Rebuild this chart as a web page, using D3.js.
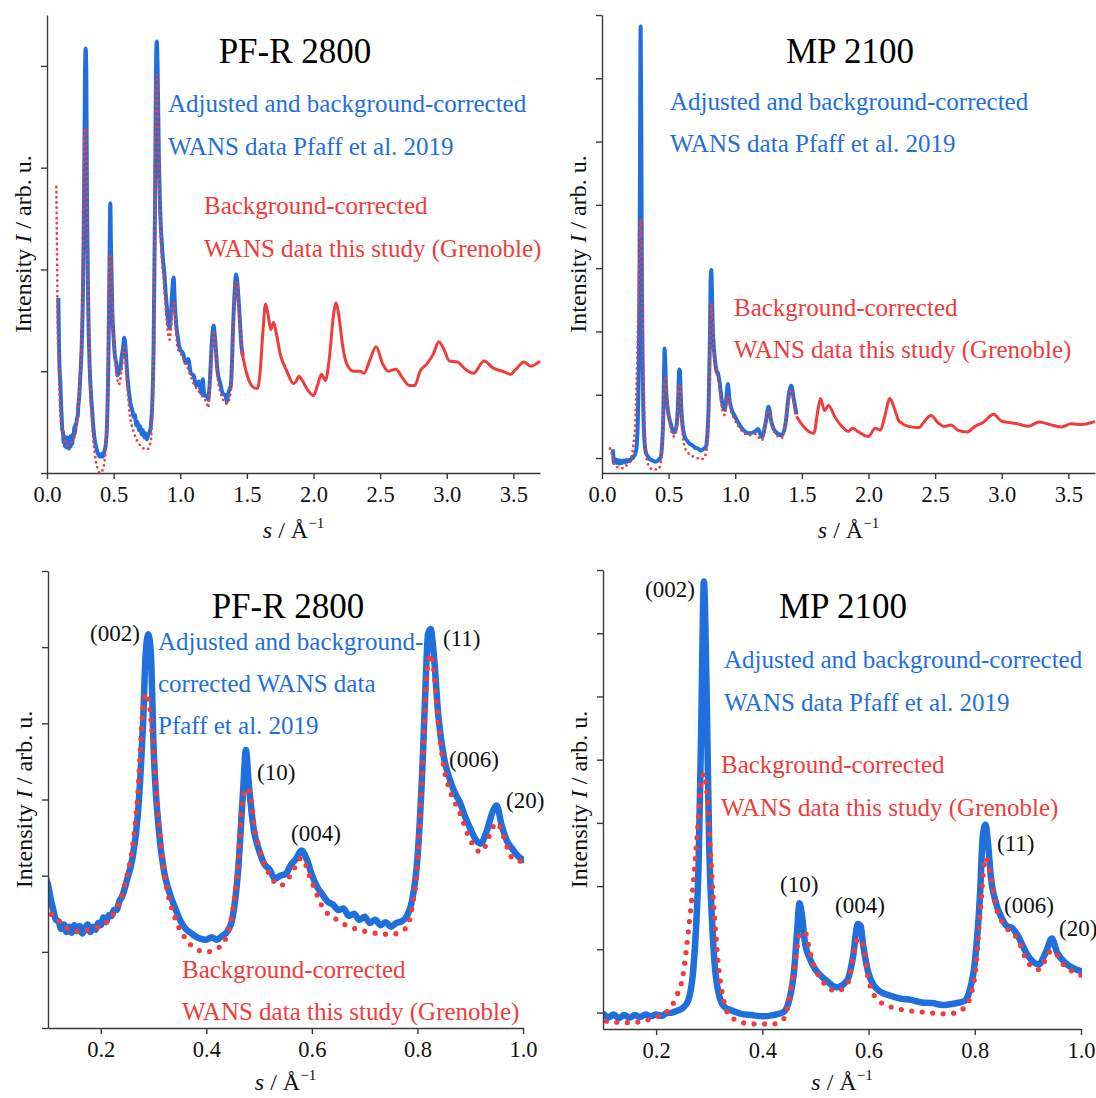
<!DOCTYPE html>
<html><head><meta charset="utf-8">
<script src="https://cdn.jsdelivr.net/npm/d3@7"></script>
<style>
body{margin:0;background:#fff}
svg text{font-family:"Liberation Serif","Times New Roman",serif}
</style></head><body>
<svg id="c" width="1096" height="1098"></svg>
<script>
// ---- WANS intensity profiles, s in 1/Å, intensity in arbitrary units ----
// PF-R 2800: adjusted data (Pfaff et al. 2019), noisy where counts are low
const pfrBlue = [[0.085,1.72],[0.09,1.25],[0.095,1.0],[0.1,0.88],[0.105,0.70],[0.11,0.55],[0.115,0.42],[0.12,0.40],[0.125,0.30],[0.13,0.36],[0.135,0.26],[0.14,0.33],[0.145,0.25],[0.15,0.35],[0.155,0.27],[0.16,0.34],[0.165,0.24],[0.17,0.31],[0.175,0.36],[0.18,0.26],[0.185,0.33],[0.19,0.29],[0.195,0.38],[0.2,0.35],[0.205,0.45],[0.21,0.39],[0.215,0.48],[0.22,0.47],[0.225,0.55],[0.23,0.55],[0.235,0.66],[0.24,0.72],[0.25,0.95],[0.26,1.23],[0.27,1.78],[0.275,2.3],[0.28,2.98],[0.285,3.9],[0.29,4.17],[0.295,3.9],[0.30,2.70],[0.31,1.60],[0.32,1.05],[0.33,0.78],[0.34,0.59],[0.35,0.42],[0.36,0.31],[0.37,0.25],[0.38,0.20],[0.39,0.17],[0.40,0.16],[0.41,0.19],[0.42,0.16],[0.43,0.21],[0.44,0.27],[0.45,0.46],[0.46,1.05],[0.47,2.15],[0.475,2.65],[0.48,2.24],[0.49,1.60],[0.50,1.33],[0.51,1.15],[0.52,1.08],[0.53,0.96],[0.54,1.00],[0.55,1.02],[0.56,1.14],[0.57,1.22],[0.58,1.33],[0.59,1.22],[0.60,1.01],[0.61,0.85],[0.62,0.75],[0.63,0.66],[0.64,0.62],[0.65,0.55],[0.66,0.57],[0.67,0.47],[0.68,0.50],[0.69,0.42],[0.70,0.46],[0.71,0.38],[0.72,0.42],[0.73,0.35],[0.74,0.39],[0.75,0.33],[0.76,0.38],[0.77,0.40],[0.78,0.47],[0.79,0.68],[0.80,1.23],[0.81,2.52],[0.815,3.43],[0.82,4.17],[0.825,4.24],[0.83,3.98],[0.84,3.07],[0.85,2.56],[0.86,2.29],[0.87,2.10],[0.88,1.97],[0.89,1.78],[0.90,1.62],[0.91,1.48],[0.92,1.42],[0.93,1.56],[0.945,1.88],[0.95,1.92],[0.96,1.65],[0.97,1.45],[0.98,1.35],[0.99,1.26],[1.00,1.21],[1.02,1.18],[1.04,1.08],[1.06,1.12],[1.08,0.98],[1.10,0.96],[1.12,0.86],[1.14,0.90],[1.16,0.78],[1.17,0.92],[1.18,0.76],[1.20,0.76],[1.21,0.72],[1.22,0.86],[1.24,1.34],[1.25,1.45],[1.26,1.34],[1.28,1.0],[1.3,0.88],[1.32,0.78],[1.34,0.76],[1.35,0.70],[1.36,0.78],[1.38,0.86],[1.40,1.55],[1.42,1.95],[1.44,1.66],[1.46,1.24],[1.47,1.15]];
// PF-R 2800: this study (Grenoble), measured range overlapping the adjusted data
const pfrRed = [[0.07,2.81],[0.075,2.2],[0.08,1.5],[0.09,1.0],[0.1,0.57],[0.12,0.41],[0.15,0.27],[0.2,0.34],[0.22,0.46],[0.24,0.73],[0.25,1.01],[0.26,1.37],[0.27,2.06],[0.28,3.2],[0.285,3.39],[0.29,3.34],[0.295,3.07],[0.30,2.61],[0.31,1.69],[0.32,1.05],[0.34,0.46],[0.36,0.18],[0.38,0.04],[0.40,0.0],[0.42,0.04],[0.44,0.23],[0.46,1.14],[0.47,2.06],[0.478,2.15],[0.485,2.0],[0.49,1.69],[0.50,1.37],[0.52,1.01],[0.54,0.87],[0.56,1.01],[0.58,1.23],[0.60,0.91],[0.62,0.59],[0.65,0.41],[0.70,0.27],[0.75,0.23],[0.78,0.32],[0.79,0.59],[0.80,1.14],[0.81,2.52],[0.82,3.80],[0.825,3.91],[0.83,3.75],[0.84,2.98],[0.85,2.43],[0.86,2.15],[0.88,1.83],[0.90,1.47],[0.92,1.31],[0.95,1.69],[0.98,1.23],[1.00,1.18],[1.05,1.05],[1.1,0.88],[1.15,0.78],[1.2,0.68],[1.21,0.64],[1.22,0.8],[1.24,1.25],[1.25,1.40],[1.26,1.28],[1.28,0.95],[1.3,0.8],[1.35,0.68],[1.38,0.8],[1.40,1.45],[1.42,1.88],[1.44,1.6],[1.46,1.21]];
// PF-R 2800: this study, continuation to high s
const pfrRedTail = [[1.46,1.21],[1.5,0.97],[1.55,0.84],[1.58,0.83],[1.60,1.0],[1.62,1.38],[1.64,1.66],[1.66,1.55],[1.68,1.41],[1.70,1.48],[1.72,1.38],[1.75,1.17],[1.80,1.0],[1.85,0.88],[1.87,0.90],[1.89,0.95],[1.92,0.90],[1.95,0.83],[2.00,0.76],[2.03,0.86],[2.06,0.97],[2.09,0.91],[2.12,1.14],[2.15,1.55],[2.17,1.67],[2.19,1.55],[2.22,1.24],[2.25,1.07],[2.30,1.0],[2.35,1.0],[2.38,0.98],[2.42,1.10],[2.47,1.24],[2.52,1.07],[2.56,1.0],[2.62,1.02],[2.66,0.95],[2.72,0.86],[2.76,0.86],[2.80,1.0],[2.85,1.07],[2.90,1.17],[2.94,1.29],[2.98,1.21],[3.02,1.10],[3.08,1.09],[3.14,1.02],[3.20,0.98],[3.28,1.10],[3.35,1.03],[3.42,1.0],[3.48,0.97],[3.52,1.02],[3.58,1.09],[3.63,1.05],[3.70,1.10]];

// MP 2100: adjusted data (Pfaff et al. 2019)
const mpBlue = [[0.08,0.14],[0.085,0.05],[0.09,-0.08],[0.1,-0.02],[0.11,-0.08],[0.12,-0.03],[0.13,-0.09],[0.14,-0.04],[0.15,-0.08],[0.16,-0.04],[0.17,-0.07],[0.18,-0.03],[0.19,-0.06],[0.2,-0.03],[0.21,-0.05],[0.22,-0.01],[0.23,0.0],[0.24,0.03],[0.25,0.07],[0.26,0.18],[0.27,0.68],[0.275,1.3],[0.28,2.34],[0.285,4.55],[0.29,6.82],[0.295,5.1],[0.30,2.61],[0.305,1.5],[0.31,0.79],[0.32,0.23],[0.33,0.08],[0.34,0.04],[0.36,-0.02],[0.38,-0.04],[0.40,-0.06],[0.42,-0.04],[0.44,0.01],[0.45,0.18],[0.46,0.68],[0.465,1.23],[0.47,1.73],[0.475,1.51],[0.48,1.12],[0.49,0.84],[0.50,0.68],[0.52,0.51],[0.54,0.40],[0.56,0.51],[0.57,0.84],[0.58,1.40],[0.585,1.37],[0.59,1.06],[0.60,0.62],[0.62,0.34],[0.64,0.27],[0.66,0.22],[0.68,0.20],[0.70,0.16],[0.72,0.15],[0.74,0.12],[0.76,0.14],[0.78,0.18],[0.79,0.34],[0.80,0.79],[0.81,1.89],[0.815,2.78],[0.82,2.97],[0.825,2.67],[0.83,2.17],[0.84,1.73],[0.85,1.51],[0.86,1.37],[0.87,1.34],[0.88,1.23],[0.90,0.90],[0.92,0.76],[0.935,0.98],[0.945,1.17],[0.955,0.95],[0.97,0.79],[1.00,0.65],[1.05,0.47],[1.1,0.39],[1.15,0.42],[1.17,0.46],[1.2,0.33],[1.23,0.58],[1.25,0.81],[1.27,0.58],[1.3,0.42],[1.35,0.36],[1.38,0.58],[1.40,0.97],[1.42,1.14],[1.44,0.92],[1.46,0.69]];
// MP 2100: this study (Grenoble)
const mpRed = [[0.06,0.15],[0.07,0.1],[0.08,0.0],[0.1,-0.13],[0.15,-0.16],[0.2,-0.07],[0.22,0.01],[0.24,0.29],[0.25,0.56],[0.26,1.23],[0.27,2.06],[0.28,3.11],[0.285,3.67],[0.29,3.78],[0.295,3.55],[0.30,2.89],[0.31,1.51],[0.32,0.56],[0.34,-0.07],[0.38,-0.18],[0.42,-0.18],[0.44,-0.1],[0.46,0.68],[0.47,1.23],[0.48,1.28],[0.49,0.95],[0.50,0.68],[0.54,0.34],[0.56,0.45],[0.58,1.17],[0.59,1.06],[0.60,0.51],[0.62,0.18],[0.65,0.07],[0.70,0.01],[0.75,-0.02],[0.78,0.07],[0.80,0.56],[0.81,1.56],[0.82,2.45],[0.83,2.17],[0.84,1.67],[0.86,1.34],[0.88,1.17],[0.90,0.79],[0.92,0.68],[0.945,0.98],[0.97,0.73],[1.00,0.59],[1.05,0.43],[1.1,0.36],[1.15,0.38],[1.2,0.28],[1.25,0.75],[1.3,0.38],[1.35,0.32],[1.4,0.9],[1.42,1.08],[1.44,0.88],[1.46,0.66]];
const mpRedTail = [[1.46,0.66],[1.5,0.53],[1.55,0.42],[1.59,0.39],[1.62,0.75],[1.64,0.94],[1.67,0.75],[1.70,0.83],[1.75,0.64],[1.80,0.5],[1.85,0.42],[1.88,0.47],[1.92,0.42],[2.00,0.34],[2.05,0.47],[2.09,0.44],[2.12,0.64],[2.16,0.94],[2.19,0.81],[2.23,0.58],[2.30,0.5],[2.38,0.48],[2.42,0.58],[2.47,0.67],[2.52,0.56],[2.57,0.5],[2.62,0.52],[2.67,0.44],[2.74,0.41],[2.80,0.5],[2.86,0.56],[2.94,0.69],[3.00,0.58],[3.06,0.56],[3.12,0.54],[3.20,0.5],[3.28,0.57],[3.36,0.53],[3.45,0.49],[3.52,0.54],[3.60,0.53],[3.70,0.58]];

// tick values
const wideTicks = [0.0,0.5,1.0,1.5,2.0,2.5,3.0,3.5];
const wideMinor = [0.25,0.75,1.25,1.75,2.25,2.75,3.25];
const zoomTicks = [0.2,0.4,0.6,0.8,1.0];
const zoomMinor = [0.1,0.3,0.5,0.7,0.9];

const blueLabel3 = ["Adjusted and background-", "corrected WANS data", "Pfaff et al. 2019"];
const blueLabel2 = ["Adjusted and background-corrected", "WANS data Pfaff et al. 2019"];
const redLabel = ["Background-corrected", "WANS data this study (Grenoble)"];
const reflections = ["(002)", "(10)", "(004)", "(11)", "(006)", "(20)"];

const BLUE = "#1f6fdc", RED = "#f03c3c", AXIS = "#3a3a3a";

const panels = [
  {title:"PF-R 2800", titleX:295, titleY:63, blue:pfrBlue, red:pfrRed, tail:pfrRedTail,
   px:[47,540], py:[473,15], xDom:[0,3.7], yDom:[0,4.5], yMajor:d3.range(0,4.01,1), yMinor:d3.range(0.5,4.6,1),
   xMajor:wideTicks, xMinor:wideMinor, wide:true, xTitleY:538,
   blueText:blueLabel2, blueAt:[168,112], redAt:[204,214], lh:42.5, hkl:null},
  {title:"MP 2100", titleX:850, titleY:63, blue:mpBlue, red:mpRed, tail:mpRedTail,
   px:[602,1095], py:[473,15], xDom:[0,3.7], yDom:[-0.237,7], yMajor:d3.range(0,7.01,1), yMinor:d3.range(0.5,6.6,1),
   xMajor:wideTicks, xMinor:wideMinor, wide:true, xTitleY:538,
   blueText:blueLabel2, blueAt:[670,110], redAt:[734,316], lh:42, hkl:null},
  {title:"PF-R 2800", titleX:288, titleY:618, blue:pfrBlue, red:pfrRed, tail:null,
   px:[48,523], py:[1028,571], xDom:[0.1,1.0], yDom:[-1,5], yMajor:d3.range(-1,5.01,1), yMinor:d3.range(-0.5,4.6,1),
   xMajor:zoomTicks, xMinor:zoomMinor, wide:false, xTitleY:1090,
   blueText:blueLabel3, blueAt:[158,650], redAt:[182,978], lh:42,
   hkl:[[90,641],[257,780],[291,841],[443,646],[449,767],[506,808]]},
  {title:"MP 2100", titleX:843, titleY:618, blue:mpBlue, red:mpRed, tail:null,
   px:[603,1081], py:[1029,570], xDom:[0.1,1.0], yDom:[-0.26,7], yMajor:d3.range(0,7.01,1), yMinor:d3.range(0.5,6.6,1),
   xMajor:zoomTicks, xMinor:zoomMinor, wide:false, xTitleY:1090,
   blueText:blueLabel2, blueAt:[724,668], redAt:[721,773], lh:43,
   hkl:[[645,597],[780,892],[835,913],[997,851],[1004,913],[1059,936]]}
];

const svg = d3.select("#c");
const defs = svg.append("defs");

panels.forEach((p, i) => {
  const x = d3.scaleLinear().domain(p.xDom).range(p.px);
  const y = d3.scaleLinear().domain(p.yDom).range(p.py);
  const g = svg.append("g");

  // clip region for the curves
  const cid = "clip" + i;
  defs.append("clipPath").attr("id", cid).append("rect")
    .attr("x", p.px[0]).attr("y", p.py[1] - 5)
    .attr("width", p.px[1] - p.px[0] + 1).attr("height", p.py[0] - p.py[1] + 10);

  const line = d3.line().x(d => x(d[0])).y(d => y(d[1])).curve(d3.curveMonotoneX);
  const curves = g.append("g").attr("clip-path", `url(#${cid})`);

  curves.append("path").attr("d", line(p.blue))
    .attr("fill", "none").attr("stroke", BLUE)
    .attr("stroke-width", p.wide ? 4 : 6.5).attr("stroke-linejoin", "round");
  curves.append("path").attr("d", line(p.red))
    .attr("fill", "none").attr("stroke", RED)
    .attr("stroke-width", p.wide ? 2.8 : 5.2).attr("stroke-linecap", "round")
    .attr("stroke-dasharray", p.wide ? "0 5.2" : "0 10.5");
  if (p.tail) {
    curves.append("path").attr("d", line(p.tail))
      .attr("fill", "none").attr("stroke", RED).attr("stroke-width", 3)
      .attr("stroke-linejoin", "round");
  }

  // axes
  const fmt = d3.format(".1f");
  const xa = g.append("g").attr("transform", `translate(0,${p.py[0]})`);
  xa.call(d3.axisBottom(x).tickValues(p.xMinor.filter(v => v <= p.xDom[1])).tickSize(3).tickSizeOuter(0).tickFormat(""));
  xa.call(d3.axisBottom(x).tickValues(p.xMajor).tickSize(6).tickSizeOuter(0).tickPadding(7).tickFormat(fmt));
  const ya = g.append("g").attr("transform", `translate(${p.px[0]},0)`);
  ya.call(d3.axisLeft(y).tickValues(p.yMinor).tickSize(3).tickSizeOuter(0).tickFormat(""));
  ya.call(d3.axisLeft(y).tickValues(p.yMajor).tickSize(6).tickSizeOuter(0).tickFormat(""));
  g.selectAll(".domain, .tick line").attr("stroke", AXIS).attr("stroke-width", 1.4);
  xa.selectAll("text").attr("font-size", 22.5).attr("fill", "#111")
    .attr("font-family", "'Liberation Serif', serif");

  // axis titles
  const xt = g.append("text").attr("x", (p.px[0] + p.px[1]) / 2).attr("y", p.xTitleY)
    .attr("text-anchor", "middle").attr("font-size", 24).attr("fill", "#111");
  xt.append("tspan").attr("font-style", "italic").text("s");
  xt.append("tspan").text(" / Å");
  xt.append("tspan").attr("font-size", 15).attr("dy", -10).text("−1");

  const yt = g.append("text")
    .attr("transform", `translate(${p.px[0] - 16},${(p.py[0] + p.py[1]) / 2}) rotate(-90)`)
    .attr("text-anchor", "middle").attr("font-size", 24).attr("fill", "#111");
  yt.append("tspan").text("Intensity ");
  yt.append("tspan").attr("font-style", "italic").text("I");
  yt.append("tspan").text(" / arb. u.");

  // sample name
  g.append("text").attr("x", p.titleX).attr("y", p.titleY).attr("text-anchor", "middle")
    .attr("font-size", 35).attr("fill", "#000").text(p.title);

  // series annotations
  p.blueText.forEach((t, k) => g.append("text").attr("x", p.blueAt[0]).attr("y", p.blueAt[1] + k * p.lh)
    .attr("font-size", 25).attr("fill", BLUE).text(t));
  redLabel.forEach((t, k) => g.append("text").attr("x", p.redAt[0]).attr("y", p.redAt[1] + k * p.lh)
    .attr("font-size", 25).attr("fill", RED).text(t));

  // reflection indices
  if (p.hkl) {
    p.hkl.forEach((pos, k) => g.append("text").attr("x", pos[0]).attr("y", pos[1])
      .attr("font-size", 23).attr("fill", "#111").text(reflections[k]));
  }
});
</script>
</body></html>
